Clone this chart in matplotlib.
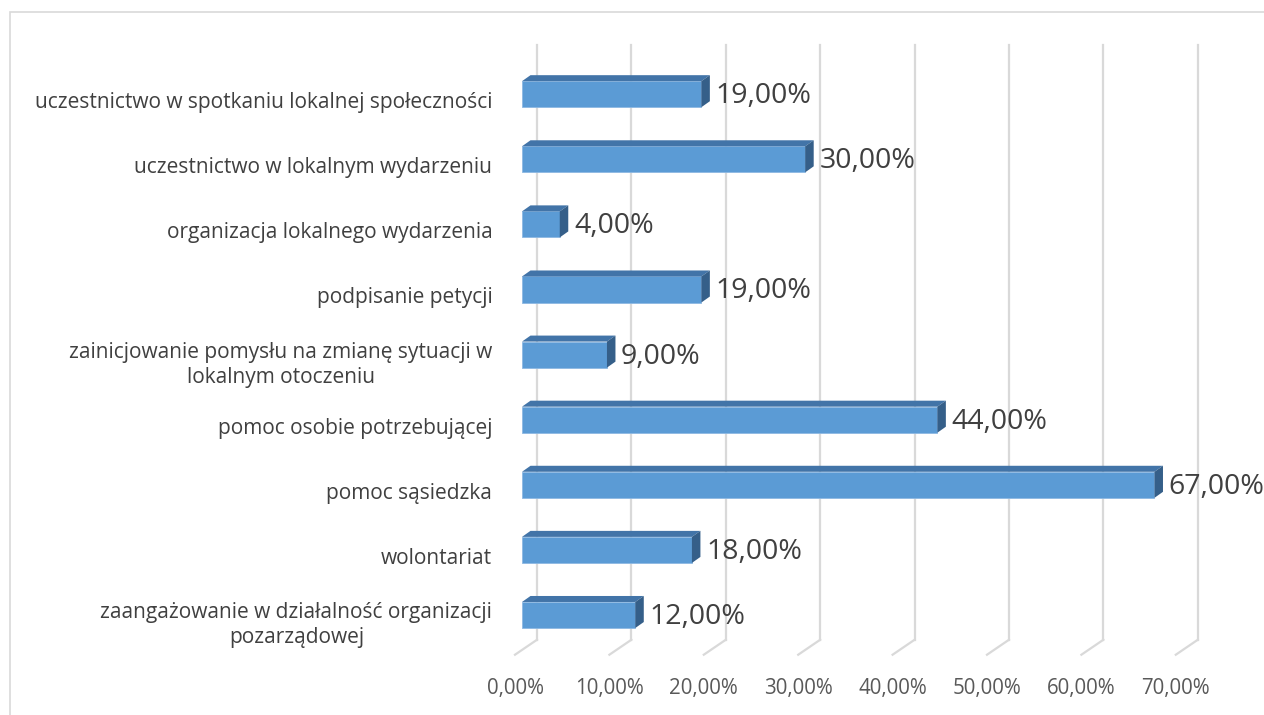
import numpy as np
import matplotlib
matplotlib.use("Agg")
import matplotlib.pyplot as plt
from matplotlib.patches import Polygon, Rectangle

# dane (od dołu do góry)
kategorie = [
    "zaangażowanie w działalność organizacji\npozarządowej",
    "wolontariat",
    "pomoc sąsiedzka",
    "pomoc osobie potrzebującej",
    "zainicjowanie pomysłu na zmianę sytuacji w\nlokalnym otoczeniu",
    "podpisanie petycji",
    "organizacja lokalnego wydarzenia",
    "uczestnictwo w lokalnym wydarzeniu",
    "uczestnictwo w spotkaniu lokalnej społeczności",
]
wartosci = [12, 18, 67, 44, 9, 19, 4, 30, 19]
ticki = [0, 10, 20, 30, 40, 50, 60, 70]
etykiety_tickow = ["0,00%", "10,00%", "20,00%", "30,00%", "40,00%", "50,00%", "60,00%", "70,00%"]

plt.rcParams['font.family'] = ['Open Sans', 'DejaVu Sans']

W, H = 1264, 715
fig = plt.figure(figsize=(W / 100, H / 100), dpi=100)

px_x = 9.44   # pikseli na 1%
px_y = 65.1   # pikseli na kategorię
x0_px = 522
y0_px = H - 615
xmin, xmax = -3, 75
ymin, ymax = -1.4, 8.9
ax = fig.add_axes([(x0_px + xmin * px_x) / W, (y0_px + ymin * px_y) / H,
                   (xmax - xmin) * px_x / W, (ymax - ymin) * px_y / H])
ax.set_xlim(xmin, xmax)
ax.set_ylim(ymin, ymax)
for s in ax.spines.values():
    s.set_visible(False)
ax.set_xticks([])

# ramka wykresu
fig.add_artist(Rectangle((10 / W, -0.1), 1.2, (H - 12) / H + 0.1, transform=fig.transFigure,
                         fill=False, edgecolor='#D9D9D9', lw=1.2))

# siatka 3D
gx = 15 / px_x
dgx = -7 / px_x
y_floor = -0.38
y_diag = -0.61
y_top = 8.76
for t, lab in zip(ticki, etykiety_tickow):
    ax.plot([t + gx, t + gx], [y_floor, y_top], color='#D9D9D9', lw=1.6, zorder=1)
    ax.plot([t + gx, t + dgx], [y_floor, y_diag], color='#D9D9D9', lw=1.6, zorder=1)
    ax.text(t + dgx, -1.13, lab, ha='center', va='center', fontsize=14.8, color='#595959')

# słupki 3D
h = 0.4
dx = 8.5 / px_x
dy = 6 / px_y
front = '#5B9BD5'
top = '#4274A8'
side = '#355F89'
ys = np.arange(len(kategorie))
ax.barh(ys, wartosci, height=h, color=front, edgecolor='#8DB8E2', lw=0.6, zorder=3)
for y, v in zip(ys, wartosci):
    ax.add_patch(Polygon([(0, y + h / 2), (v, y + h / 2), (v + dx, y + h / 2 + dy), (dx, y + h / 2 + dy)],
                         closed=True, facecolor=top, edgecolor='none', zorder=3))
    ax.add_patch(Polygon([(v, y - h / 2), (v, y + h / 2), (v + dx, y + h / 2 + dy), (v + dx, y - h / 2 + dy)],
                         closed=True, facecolor=side, edgecolor='none', zorder=3))
    ax.text(v + dx + 0.6, y - 0.03, f"{v},00%", ha='left', va='center', fontsize=20.5,
            color='#404040', zorder=4, clip_on=False)

# etykiety kategorii
ax.set_yticks(ys - 0.09)
ax.set_yticklabels(kategorie, fontsize=15, color='#404040', multialignment='center', linespacing=1.25)
ax.tick_params(axis='y', length=0, pad=1)

fig.savefig("out.png", dpi=100)
